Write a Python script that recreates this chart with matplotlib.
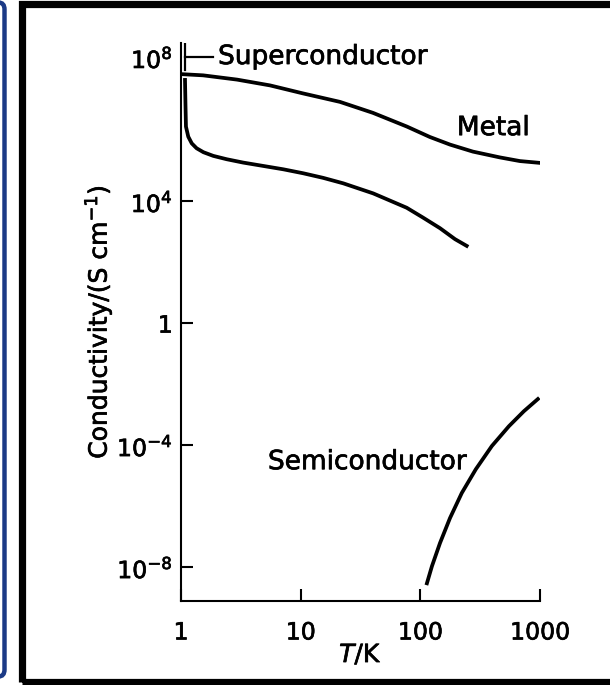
import numpy as np
import matplotlib.pyplot as plt
import matplotlib.patheffects as patheffects
from matplotlib.patches import Rectangle, FancyBboxPatch

plt.rcParams['font.family'] = ['DejaVu Sans']

# temperatures in K, conductivities as log10(S cm^-1)
metal_T = [1.0, 1.53, 2.94, 5.55, 10.4, 21.3, 40.2, 77.3, 120, 177, 275, 462, 679, 1000]
metal_logsig = [8.16, 8.12, 7.98, 7.79, 7.53, 7.25, 6.89, 6.44, 6.10, 5.85, 5.62, 5.43,
                5.31, 5.25]

super_T = [1.08, 1.09, 1.10, 1.15, 1.23, 1.35, 1.54, 1.86, 2.41, 3.31, 4.87, 7.16, 10.5,
           15.4, 22.7, 40.4, 76.9, 105, 146, 195, 244]
super_logsig = [7.97, 7.15, 6.44, 6.11, 5.89, 5.73, 5.60, 5.48, 5.37, 5.26, 5.15, 5.04,
                4.91, 4.76, 4.58, 4.25, 3.78, 3.46, 3.11, 2.75, 2.53]
# jump to infinite conductivity at Tc
tc = 1.075
tc_logsig = [8.30, 9.18]

semi_T = [113.5, 125, 146, 177, 222, 291, 396, 550, 733, 960]
semi_logsig = [-8.53, -7.97, -7.21, -6.39, -5.57, -4.79, -4.03, -3.38, -2.89, -2.49]

xticks = [1, 10, 100, 1000]
xticklabels = ['1', '10', '100', '1000']
yticks = [1e-8, 1e-4, 1, 1e4, 10 ** 8.72]
yticklabels = ['$10^{-8}$', '$10^{-4}$', '1', '$10^{4}$', '$10^{8}$']

heavy = [patheffects.withStroke(linewidth=0.5, foreground='black')]

fig = plt.figure(figsize=(6.1, 6.85), dpi=100)
ax = fig.add_axes([181 / 610, 1 - 601 / 685, (540 - 181) / 610, (601 - 43) / 685])

lw = 2.7
ax.plot(metal_T, 10 ** np.array(metal_logsig), color='black', lw=lw)
ax.plot(super_T, 10 ** np.array(super_logsig), color='black', lw=lw)
ax.plot([tc, tc], 10 ** np.array(tc_logsig), color='black', lw=1.6)
ax.plot(semi_T, 10 ** np.array(semi_logsig), color='black', lw=lw)

# leader from the Tc line to its label
ax.plot([tc, 1.85], [10 ** 8.72, 10 ** 8.72], color='black', lw=1.6)

ax.set_xscale('log')
ax.set_yscale('log')
ax.set_xlim(1, 1000)
ax.set_ylim(10 ** -9.11, 10 ** 9.18)

ax.set_xticks(xticks)
ax.set_xticklabels(xticklabels)
ax.set_yticks(yticks)
ax.set_yticklabels(yticklabels)
ax.minorticks_off()
ax.tick_params(direction='in', length=8.5, width=1.5, labelsize=17)
ax.tick_params(axis='x', pad=14)
ax.tick_params(axis='y', pad=6)
ax.yaxis.get_major_ticks()[-1].tick1line.set_visible(False)
for lab in ax.get_xticklabels() + ax.get_yticklabels():
    lab.set_path_effects(heavy)

for side in ['top', 'right']:
    ax.spines[side].set_visible(False)
for side in ['left', 'bottom']:
    ax.spines[side].set_linewidth(1.5)

ax.set_ylabel('Conductivity/(S cm$^{-1}$)', fontsize=18, labelpad=2, path_effects=heavy)
ax.set_xlabel('$T$/K', fontsize=18, labelpad=-1, path_effects=heavy)

fs = 19
ax.text(2.04, 10 ** 8.72, 'Superconductor', fontsize=fs, va='center', ha='left',
        path_effects=heavy)
ax.text(202, 10 ** 6.39, 'Metal', fontsize=fs, va='center', ha='left', path_effects=heavy)
ax.text(5.33, 10 ** -4.56, 'Semiconductor', fontsize=fs, va='center', ha='left',
        path_effects=heavy)

# page frames
fig.patches.append(Rectangle((21.5 / 610, 3.5 / 685), 1.0, 678 / 685, fill=False,
                             edgecolor='black', lw=5.2, transform=fig.transFigure))
fig.patches.append(FancyBboxPatch((-0.2, 8.5 / 685), 0.2 + 4.5 / 610, 674 / 685,
                                  boxstyle='round,pad=0,rounding_size=0.01', fill=False,
                                  edgecolor='#1b3a86', lw=3.2, transform=fig.transFigure))

fig.savefig('out.png', dpi=100)
